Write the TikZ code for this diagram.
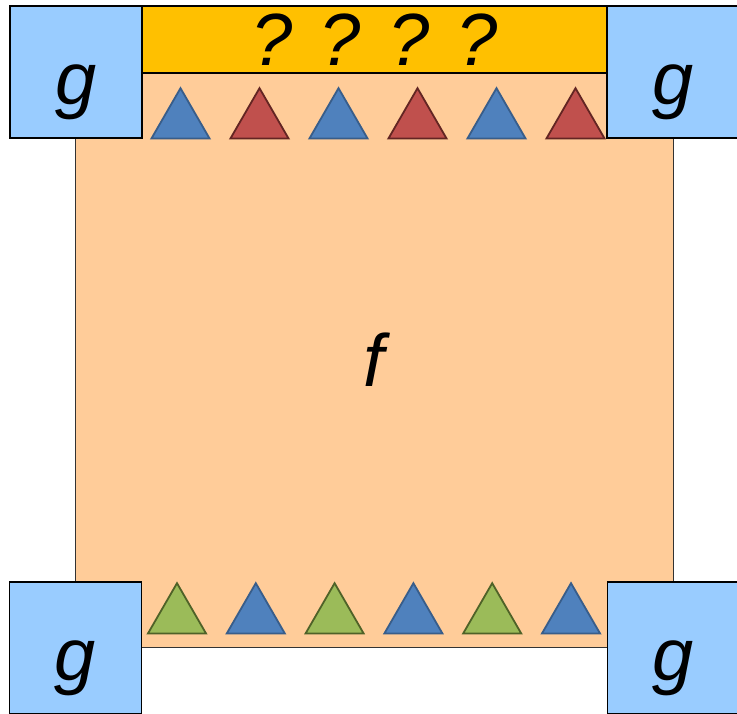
\documentclass[tikz,border=0pt]{standalone}
\usepackage{fontspec}
\setmainfont{Liberation Sans}
\usetikzlibrary{positioning,shapes.geometric}
\definecolor{gblue}{HTML}{99CCFF}
\definecolor{forange}{HTML}{FFCC99}
\definecolor{qyellow}{HTML}{FFC000}
\definecolor{bluefill}{HTML}{4F81BD}
\definecolor{blueline}{HTML}{385D8A}
\definecolor{redfill}{HTML}{C0504D}
\definecolor{redline}{HTML}{632523}
\definecolor{greenfill}{HTML}{9BBB59}
\definecolor{greenline}{HTML}{4F6228}
\begin{document}
\begin{tikzpicture}[x=1pt,y=1pt,
    lbl/.style={font=\fontsize{74}{80}\selectfont\itshape,text height=53pt,text depth=0pt,inner sep=0pt,outer sep=0pt},
    gbox/.style={lbl,text height=66pt,draw=black,line width=1.3pt,fill=gblue,minimum width=132pt,minimum height=132pt},
    tri/.style={regular polygon,regular polygon sides=3,minimum size=67pt,inner sep=0pt,line width=1.8pt},
    triblue/.style={tri,fill=bluefill,draw=blueline},
    trired/.style={tri,fill=redfill,draw=redline},
    trigreen/.style={tri,fill=greenfill,draw=greenline}]
    \useasboundingbox (0,0) rectangle (737,714);
    \node[lbl,draw=black!80,line width=1pt,fill=forange,minimum width=598pt,minimum height=575pt] (fbox) at (374,353.5) {f};
    \node[lbl,draw=black,line width=1.3pt,fill=qyellow,minimum width=465pt,minimum height=67pt] (qbar) at (374.5,674.5) {? ? ? ?};
    \node[gbox,below left=0pt of qbar.north west] (gtl) {g};
    \node[gbox,below right=0pt of qbar.north east] (gtr) {g};
    \node[gbox] (gbl) at (75.5,66) {g};
    \node[gbox] (gbr) at (673.5,66) {g};
    % top row of triangles
    \foreach \s [count=\i] in {triblue,trired,triblue,trired,triblue,trired}
        \node[\s] (top\i) at ({180.5+79*(\i-1)},592.3) {};
    % bottom row of triangles
    \foreach \s [count=\i] in {trigreen,triblue,trigreen,triblue,trigreen,triblue}
        \node[\s] (bot\i) at ({177+78.8*(\i-1)},97.3) {};
\end{tikzpicture}
\end{document}
